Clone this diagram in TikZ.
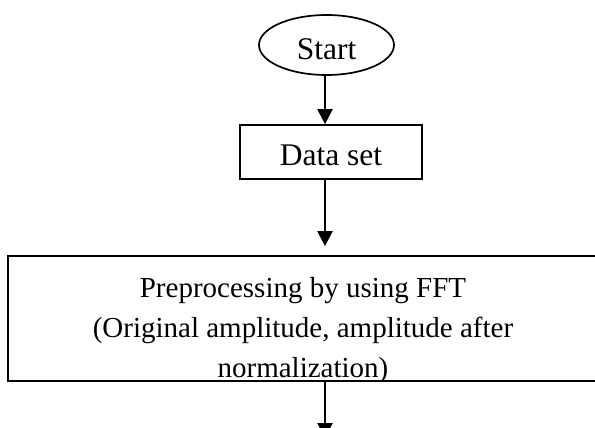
\documentclass[tikz,border=0pt]{standalone}
\usepackage{fontspec}
\setmainfont{Liberation Serif}
\usetikzlibrary{arrows.meta,shapes.geometric}
\tikzset{
  shapeline/.style={draw=black, line width=1.7pt},
  arr/.style={line width=2.2pt, -{Triangle[width=15pt,length=15pt]}},
  bigfont/.style={font=\fontsize{31.5}{38}\selectfont},
  boxfont/.style={font=\fontsize{29}{40}\selectfont}
}
\begin{document}
\begin{tikzpicture}[x=1pt,y=-1pt]
\useasboundingbox (0,0) rectangle (595,428);
\clip (0,0) rectangle (595,428);
\fill[white] (0,0) rectangle (595,428);
\coordinate (ax) at (325,0);
\node[ellipse, shapeline, bigfont, minimum width=135pt, minimum height=60pt, inner sep=0pt,
      text height=30pt, text depth=0pt] (start) at (326.5,45) {Start};
\node[rectangle, shapeline, bigfont, minimum width=182pt, minimum height=54pt, inner sep=0pt,
      text height=26pt, text depth=0pt] (data) at (331,152) {Data set};
\node[rectangle, shapeline, minimum width=590pt, minimum height=125pt, inner sep=0pt] (pre) at (303,318.5) {};
\begin{scope}
  \clip (pre.south west) rectangle (pre.north east);
  \node[boxfont, align=center, anchor=north, inner sep=0pt] (pretext) at (303,277.5)
    {Preprocessing by using FFT\\(Original amplitude, amplitude after\\normalization)};
\end{scope}
\coordinate (endpt) at (325,438);
\draw[arr] (start.south -| ax) -- (data.north -| ax);
\draw[arr] (data.south -| ax) -- ([yshift=9pt]pre.north -| ax);
\draw[arr] (pre.south -| ax) -- (endpt);
\end{tikzpicture}
\end{document}
